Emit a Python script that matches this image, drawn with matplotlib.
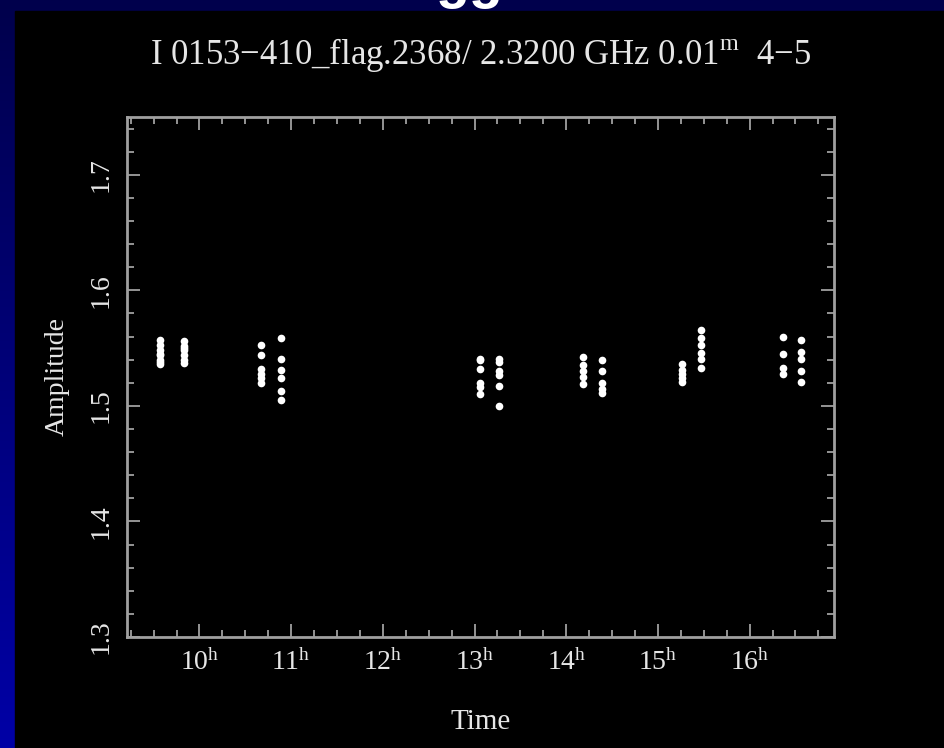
import numpy as np
import matplotlib
matplotlib.use("Agg")
import matplotlib.pyplot as plt
from matplotlib.colors import LinearSegmentedColormap
from matplotlib.patches import Rectangle
from matplotlib.ticker import MultipleLocator

plt.rcParams['font.family'] = ['Liberation Serif', 'DejaVu Serif']

# scan mid times (hours) and the amplitudes measured in each scan
scan_times = [9.575, 9.836, 10.676, 10.894, 13.064, 13.272,
              14.188, 14.395, 15.267, 15.474, 16.369, 16.565]
scan_amps = [
    [1.557, 1.553, 1.548, 1.544, 1.540, 1.536, 1.538, 1.545],
    [1.556, 1.552, 1.548, 1.544, 1.540, 1.537, 1.550],
    [1.553, 1.544, 1.532, 1.528, 1.524, 1.520],
    [1.559, 1.541, 1.531, 1.524, 1.513, 1.505],
    [1.541, 1.540, 1.532, 1.520, 1.516, 1.510],
    [1.541, 1.538, 1.530, 1.527, 1.517, 1.500],
    [1.542, 1.535, 1.530, 1.525, 1.519],
    [1.540, 1.530, 1.520, 1.515, 1.511],
    [1.536, 1.531, 1.528, 1.524, 1.521],
    [1.566, 1.559, 1.553, 1.546, 1.541, 1.533],
    [1.560, 1.545, 1.533, 1.528],
    [1.557, 1.547, 1.541, 1.530, 1.521],
]
hour_ticks = [10, 11, 12, 13, 14, 15, 16]
amp_ticks = [1.3, 1.4, 1.5, 1.6, 1.7]

times = np.concatenate([[t] * len(a) for t, a in zip(scan_times, scan_amps)])
amps = np.concatenate(scan_amps)

fig = plt.figure(figsize=(9.45, 7.48), dpi=100)

# blue slide frame behind the black plot area
bg = fig.add_axes([0, 0, 1, 1], zorder=-10)
bg.axis('off')
blue = LinearSegmentedColormap.from_list('blue', ['#00004c', '#0000a6'])
bg.imshow(np.linspace(0, 1, 256).reshape(-1, 1), cmap=blue, aspect='auto',
          extent=[0, 1, 0, 1])
# bottom of the slide heading, cut by the top edge
fig.text(470 / 945, 1 + 3 / 748, 'gg', color='white', fontsize=40,
         fontweight='bold', family='Liberation Sans', ha='center',
         va='baseline', zorder=-8, clip_on=False)
fig.patches.append(Rectangle((15 / 945, 0), 1, 1 - 11 / 748,
                             transform=fig.transFigure, color='black',
                             zorder=-5))

ax = fig.add_axes([127 / 945, 1 - 637 / 748, 707 / 945, 520 / 748])
ax.set_facecolor('black')
ax.plot(times, amps, 'o', color='white', markersize=5.5, markeredgewidth=0)

ax.set_xlim(9.21, 16.92)
ax.set_ylim(1.3, 1.75)
ax.set_xticks(hour_ticks)
ax.set_xticklabels([r'$\mathregular{%d^h}$' % h for h in hour_ticks])
ax.set_yticks(amp_ticks)
ax.set_yticklabels(['%.1f' % v for v in amp_ticks], rotation=90, va='center')
ax.xaxis.set_minor_locator(MultipleLocator(0.25))
ax.yaxis.set_minor_locator(MultipleLocator(0.02))

grey = '#a0a0a0'
txt = '#e6e6e6'
for s in ax.spines.values():
    s.set_color(grey)
    s.set_linewidth(2)
ax.tick_params(which='both', direction='in', top=True, right=True,
               color=grey, labelcolor=txt, labelsize=20, width=1.3)
ax.tick_params(which='major', length=9.5)
ax.tick_params(which='minor', length=5)
ax.tick_params(axis='x', pad=9)
ax.tick_params(axis='y', pad=10)

ax.set_title('I 0153\u2212410_flag.2368/ 2.3200 GHz 0.01$^{\\mathregular{m}}$  4\u22125',
             color=txt, fontsize=25, pad=38)
ax.set_xlabel('Time', color=txt, fontsize=21, labelpad=24)
ax.set_ylabel('Amplitude', color=txt, fontsize=20, labelpad=13)

fig.savefig('out.png', dpi=100, facecolor='black')
